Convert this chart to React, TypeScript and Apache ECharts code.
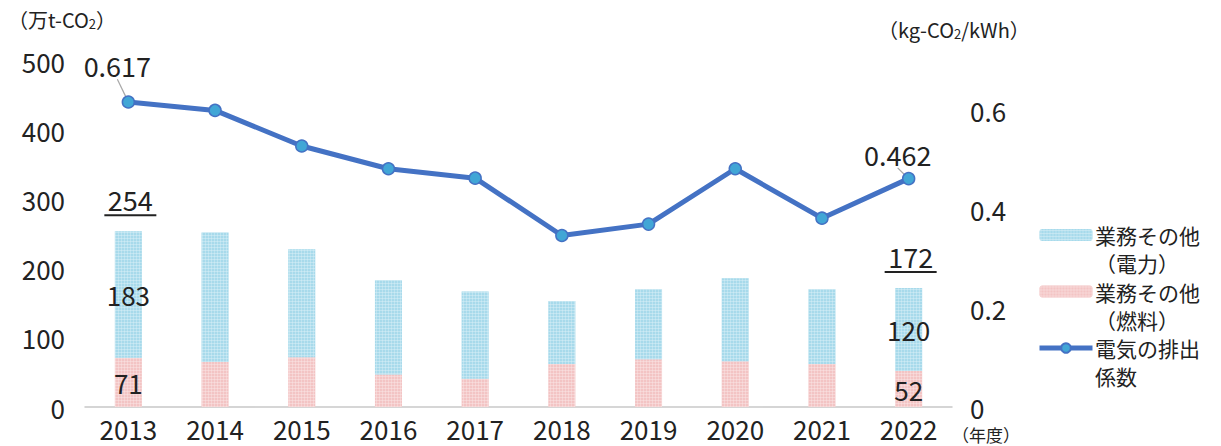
import React, { useEffect, useRef } from "react";
import * as echarts from "echarts";

const years = ["2013", "2014", "2015", "2016", "2017", "2018", "2019", "2020", "2021", "2022"];
const elecValues = [183, 187, 156, 136, 126, 91, 101, 120, 108, 120];
const fuelValues = [71, 65, 72, 47, 41, 62, 69, 66, 62, 52];
const factorValues = [0.617, 0.6, 0.528, 0.482, 0.463, 0.347, 0.37, 0.482, 0.382, 0.462];
const labeledYears = ["2013", "2022"];
const leftTicks = { min: 0, max: 500, interval: 100 };
const rightTicks = { min: 0, max: 0.7, interval: 0.2 };

const NAME_ELEC = "業務その他\n（電力）";
const NAME_FUEL = "業務その他\n（燃料）";
const NAME_LINE = "電気の排出\n係数";
const legendNames = [NAME_ELEC, NAME_FUEL, NAME_LINE];

const FONT = "'Noto Sans CJK JP', 'Noto Sans', sans-serif";
const TXT = "#222222";

// legend layout
const LEG_LEFT = 1037;
const LEG_ICON_W = 53;
const LEG_ICON_H = 12;
const LEG_FIRST_Y = 235;
const LEG_STEP = 56.5;
const LEG_LINE_SP = 28;
const LEG_FONT = 21;

export default function App() {
  const ref = useRef<HTMLDivElement>(null);
  useEffect(() => {
    document.body.style.margin = "0";
    const chart = echarts.init(ref.current!, undefined, { renderer: "svg" });
    const isLabeled = (i: number) => labeledYears.includes(years[i]);
    const totals = years.map((y, i) => (isLabeled(i) ? elecValues[i] + fuelValues[i] : "-"));
    const decal = {
      symbol: "circle",
      symbolSize: 0.9,
      dashArrayX: [3, 0],
      dashArrayY: [3, 0],
      color: "rgba(255,255,255,0.55)",
    };
    const legendTexts = legendNames.map((n, k) => ({
      type: "text",
      left: LEG_LEFT + LEG_ICON_W + 5,
      top: LEG_FIRST_Y + k * LEG_STEP - LEG_LINE_SP / 2,
      style: {
        text: n,
        fontSize: LEG_FONT,
        lineHeight: LEG_LINE_SP,
        fontFamily: FONT,
        fill: TXT,
      },
    }));
    const option: any = {
      animation: false,
      textStyle: { fontFamily: FONT },
      grid: { left: 85, right: 269, top: 61, bottom: 39 },
      legend: {
        orient: "vertical",
        left: LEG_LEFT,
        top: LEG_FIRST_Y - LEG_ICON_H / 2,
        padding: 0,
        itemGap: LEG_STEP - LEG_ICON_H,
        itemWidth: LEG_ICON_W,
        itemHeight: LEG_ICON_H,
        data: [
          { name: NAME_ELEC },
          { name: NAME_FUEL },
          { name: NAME_LINE, lineStyle: { width: 5, color: "#4472c4" } },
        ],
        formatter: () => "",
        textStyle: { fontSize: 1 },
      },
      xAxis: {
        type: "category",
        data: years,
        axisLine: { lineStyle: { color: "#c8c8c8", width: 1.5 } },
        axisTick: { show: false },
        axisLabel: { fontSize: 26, color: TXT, margin: 8, fontFamily: FONT },
      },
      yAxis: [
        {
          type: "value",
          ...leftTicks,
          splitLine: { show: false },
          axisLine: { show: false },
          axisTick: { show: false },
          axisLabel: { fontSize: 26, color: TXT, margin: 20, fontFamily: FONT },
        },
        {
          type: "value",
          ...rightTicks,
          splitLine: { show: false },
          axisLine: { show: false },
          axisTick: { show: false },
          axisLabel: {
            fontSize: 26,
            color: TXT,
            margin: 18,
            fontFamily: FONT,
            showMaxLabel: false,
            formatter: (v: number) => (v === 0 ? "0" : String(Math.round(v * 10) / 10)),
          },
        },
      ],
      series: [
        {
          name: NAME_FUEL,
          type: "bar",
          stack: "total",
          barWidth: 27,
          itemStyle: { color: "#f0b4b4", decal },
          label: { show: false, position: "inside", fontSize: 26, color: TXT, fontFamily: FONT },
          data: fuelValues.map((v, i) => ({ value: v, label: { show: isLabeled(i) } })),
        },
        {
          name: NAME_ELEC,
          type: "bar",
          stack: "total",
          barWidth: 27,
          itemStyle: { color: "#8fd0e6", decal },
          label: { show: false, position: "inside", fontSize: 26, color: TXT, fontFamily: FONT },
          data: elecValues.map((v, i) => ({ value: v, label: { show: isLabeled(i) } })),
        },
        {
          name: "total",
          type: "scatter",
          symbol: "rect",
          symbolSize: [52, 2],
          symbolOffset: [2, -16],
          itemStyle: { color: "#222222", opacity: 1 },
          label: {
            show: true,
            position: "top",
            distance: 1,
            fontSize: 27,
            color: TXT,
            fontFamily: FONT,
          },
          data: totals,
          z: 5,
        },
        {
          name: NAME_LINE,
          type: "line",
          yAxisIndex: 1,
          symbol: "circle",
          symbolSize: 12,
          lineStyle: { color: "#4472c4", width: 5 },
          itemStyle: { color: "#41a6d6", borderColor: "#4472c4", borderWidth: 1.5 },
          label: { show: false, position: "top", fontSize: 27, color: TXT, fontFamily: FONT, distance: 4 },
          labelLine: { show: true, lineStyle: { color: "#a8a8a8", width: 1.2 } },
          labelLayout: (p: any) => {
            if (p.dataIndex === 0) return { dx: -11, dy: -12 };
            if (p.dataIndex === years.length - 1) return { dx: -11, dy: 0 };
            return {};
          },
          data: factorValues.map((v, i) => ({
            value: v,
            label: { show: isLabeled(i), formatter: v.toFixed(3) },
          })),
          z: 10,
        },
      ],
      graphic: [
        ...legendTexts,
        {
          type: "text",
          left: 8,
          top: 9,
          style: {
            text: "（万t-CO{s|2}）",
            fontSize: 20,
            fontFamily: FONT,
            fill: TXT,
            rich: { s: { fontSize: 13, fontFamily: FONT, fill: TXT, padding: [9, 0, 0, 0] } },
          },
        },
        {
          type: "text",
          left: 878,
          top: 19,
          style: {
            text: "（kg-CO{s|2}/kWh）",
            fontSize: 20,
            fontFamily: FONT,
            fill: TXT,
            rich: { s: { fontSize: 13, fontFamily: FONT, fill: TXT, padding: [9, 0, 0, 0] } },
          },
        },
        {
          type: "text",
          left: 952,
          top: 426,
          style: { text: "（年度）", fontSize: 17, lineHeight: 17, fontFamily: FONT, fill: TXT },
        },
      ],
    };
    chart.setOption(option);
    return () => chart.dispose();
  }, []);
  return <div ref={ref} style={{ width: 1221, height: 446 }} />;
}
